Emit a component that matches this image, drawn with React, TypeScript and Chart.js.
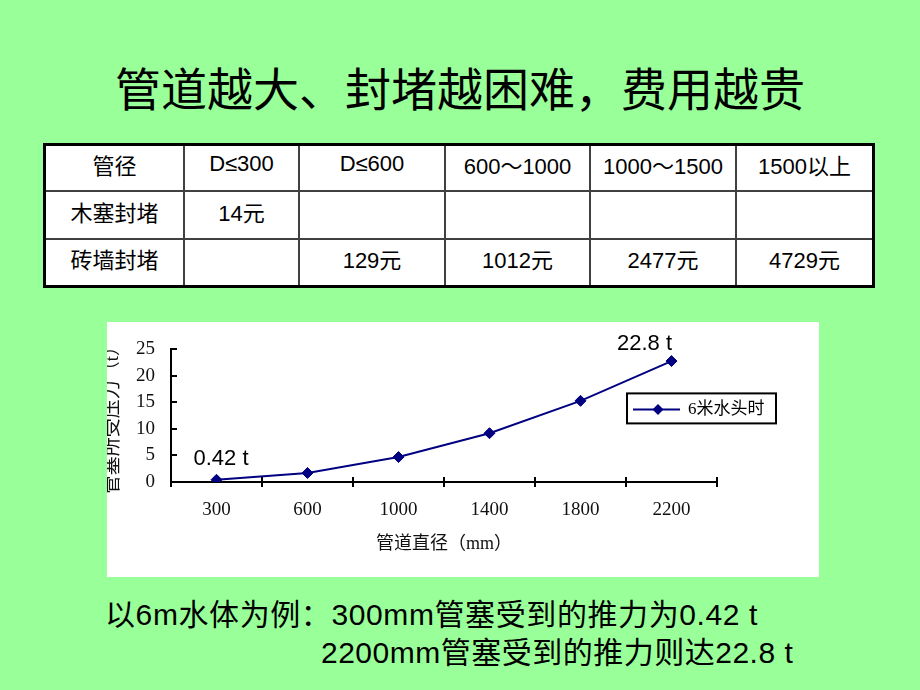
import React, { useEffect, useRef } from "react";
import { Chart, registerables } from "chart.js";

Chart.register(...registerables);

// ---------- data ----------
const slideTitle = "管道越大、封堵越困难，费用越贵";
const tableHeader = ["管径", "D≤300", "D≤600", "600～1000", "1000～1500", "1500以上"];
const woodRow = ["木塞封堵", "14元", "", "", "", ""];
const brickRow = ["砖墙封堵", "", "129元", "1012元", "2477元", "4729元"];

const diameters = ["300", "600", "1000", "1400", "1800", "2200"];
const thrust = [0.42, 1.7, 4.7, 9.2, 15.3, 22.8];
const pointNotes = ["0.42 t", "", "", "", "", "22.8 t"];
const seriesName = "6米水头时";
const xTitle = "管道直径（mm）";
const yTitle = "管塞所受压力（t）";
const yMin = 0;
const yMax = 25;
const yStep = 5;

const noteLine1 = "以6m水体为例：300mm管塞受到的推力为0.42 t";
const noteLine2 = "2200mm管塞受到的推力则达22.8 t";

// ---------- styles ----------
const NAVY = "#000080";
const GREEN = "#99FF99";
const SERIF = '"Liberation Serif", "Noto Sans CJK SC", serif';
const SANS = '"Liberation Sans", "Noto Sans CJK SC", sans-serif';
const CJK = '"Noto Sans CJK SC", sans-serif';

const colWidths = [137, 113, 144, 143, 144, 135];
const rowHeights = [44, 46, 45];

// label offsets relative to their points (px)
const noteOffsets: Record<number, [number, number]> = { 0: [4.5, -15], 5: [-27, -11] };

const axisTicksPlugin = {
  id: "axisTicks",
  afterDraw(chart: any) {
    const { ctx, chartArea, scales } = chart;
    const xs = scales.x;
    const ys = scales.y;
    ctx.save();
    ctx.strokeStyle = "#000";
    ctx.lineWidth = 2;
    ctx.beginPath();
    ys.ticks.forEach((t: any) => {
      const py = Math.round(ys.getPixelForValue(t.value));
      ctx.moveTo(chartArea.left, py);
      ctx.lineTo(chartArea.left + 6, py);
    });
    for (let i = 0; i <= xs.ticks.length; i++) {
      const px = Math.round(xs.getPixelForValue(i - 0.5));
      ctx.moveTo(px, chartArea.bottom - 5);
      ctx.lineTo(px, chartArea.bottom + 5);
    }
    ctx.stroke();
    ctx.restore();
  },
};

const notesPlugin = {
  id: "pointNotes",
  afterDatasetsDraw(chart: any) {
    const meta = chart.getDatasetMeta(0);
    const ctx = chart.ctx;
    ctx.save();
    ctx.font = '22px "Liberation Sans", sans-serif';
    ctx.fillStyle = "#000";
    ctx.textAlign = "center";
    ctx.textBaseline = "alphabetic";
    pointNotes.forEach((t, i) => {
      if (!t) return;
      const p = meta.data[i];
      const off = noteOffsets[i] || [0, -12];
      ctx.fillText(t, p.x + off[0], p.y + off[1]);
    });
    ctx.restore();
  },
};

const boxedLegendPlugin = {
  id: "boxedLegend",
  afterDraw(chart: any) {
    const { ctx, chartArea } = chart;
    const ds = chart.data.datasets[0];
    const w = 149;
    const h = 30;
    const x = chartArea.right - 90;
    const y = chartArea.top + 44;
    ctx.save();
    ctx.fillStyle = "#fff";
    ctx.fillRect(x, y, w, h);
    ctx.lineWidth = 2;
    ctx.strokeStyle = "#000";
    ctx.strokeRect(x, y, w, h);
    const my = y + 16;
    ctx.strokeStyle = ds.borderColor;
    ctx.lineWidth = ds.borderWidth;
    ctx.beginPath();
    ctx.moveTo(x + 6, my);
    ctx.lineTo(x + 53, my);
    ctx.stroke();
    const cx = x + 31;
    const r = ds.pointRadius;
    ctx.fillStyle = ds.pointBackgroundColor;
    ctx.beginPath();
    ctx.moveTo(cx - r, my);
    ctx.lineTo(cx, my - r);
    ctx.lineTo(cx + r, my);
    ctx.lineTo(cx, my + r);
    ctx.closePath();
    ctx.fill();
    ctx.fillStyle = "#000";
    ctx.font = "17px " + SERIF;
    ctx.textAlign = "left";
    ctx.textBaseline = "middle";
    ctx.fillText(ds.label, x + 61, my);
    ctx.restore();
  },
};

function ForceChart() {
  const canvasRef = useRef<HTMLCanvasElement>(null);
  useEffect(() => {
    const chart = new Chart(canvasRef.current as HTMLCanvasElement, {
      type: "line",
      data: {
        labels: diameters,
        datasets: [
          {
            label: seriesName,
            data: thrust,
            borderColor: NAVY,
            backgroundColor: NAVY,
            borderWidth: 2,
            pointStyle: "rectRot",
            pointRadius: 5.5,
            pointBorderWidth: 1,
            pointBackgroundColor: NAVY,
            pointBorderColor: NAVY,
            tension: 0,
            fill: false,
          } as any,
        ],
      },
      options: {
        responsive: false,
        maintainAspectRatio: false,
        animation: false,
        layout: { padding: { top: 27, right: 102, left: 0, bottom: 0 } },
        plugins: {
          legend: { display: false },
          tooltip: { enabled: false },
          title: { display: false },
        },
        scales: {
          x: {
            type: "category",
            offset: true,
            grid: { display: true, drawOnChartArea: false, drawTicks: false, offset: true },
            border: { display: true, color: "#000", width: 2 },
            ticks: {
              color: "#111",
              font: { family: SERIF, size: 19 },
              padding: 17,
              maxRotation: 0,
              autoSkip: false,
            },
            title: {
              display: true,
              text: xTitle,
              color: "#111",
              font: { family: SERIF, size: 18 },
              padding: { top: 0, bottom: 22 },
            },
            afterFit: (s: any) => {
              s.height = 95;
            },
          },
          y: {
            min: yMin,
            max: yMax,
            grid: { display: true, drawOnChartArea: false, drawTicks: false },
            border: { display: true, color: "#000", width: 2 },
            ticks: {
              stepSize: yStep,
              color: "#111",
              font: { family: SERIF, size: 19 },
              padding: 16,
            },
            title: {
              display: true,
              text: yTitle,
              color: "#111",
              font: { family: SERIF, size: 19 },
              padding: { top: -5, bottom: 0 },
            },
            afterFit: (s: any) => {
              s.width = 64;
            },
          },
        },
      } as any,
      plugins: [axisTicksPlugin, notesPlugin, boxedLegendPlugin],
    });
    return () => chart.destroy();
  }, []);
  return (
    <canvas
      ref={canvasRef}
      width={712}
      height={255}
      style={{ position: "absolute", left: 107, top: 322, background: "#fff", display: "block" }}
    />
  );
}

function PriceTable() {
  const rows = [tableHeader, woodRow, brickRow];
  return (
    <div
      style={{
        position: "absolute",
        left: 43,
        top: 143,
        display: "grid",
        gridTemplateColumns: colWidths.map((w) => w + "px").join(" "),
        gridTemplateRows: rowHeights.map((h) => h + "px").join(" "),
        gap: 2,
        background: "#404040",
        border: "3px solid #000",
        fontFamily: SANS,
        fontSize: 22,
        color: "#000",
      }}
    >
      {rows.map((row, ri) =>
        row.map((cell, ci) => (
          <div
            key={ri + "-" + ci}
            style={{
              background: "#fff",
              display: "flex",
              alignItems: "center",
              justifyContent: "center",
              paddingBottom: 9,
              boxSizing: "border-box",
              whiteSpace: "nowrap",
            }}
          >
            {cell}
          </div>
        ))
      )}
    </div>
  );
}

export default function App() {
  return (
    <div
      style={{
        position: "absolute",
        left: 0,
        top: 0,
        width: 920,
        height: 690,
        background: GREEN,
        overflow: "hidden",
        color: "#000",
      }}
    >
      <div
        style={{
          position: "absolute",
          left: 0,
          top: 63,
          width: 920,
          textAlign: "center",
          fontFamily: CJK,
          fontSize: 46,
          lineHeight: "46px",
          whiteSpace: "nowrap",
        }}
      >
        {slideTitle}
      </div>
      <PriceTable />
      <ForceChart />
      <div
        style={{
          position: "absolute",
          left: 105,
          top: 596,
          fontFamily: SANS,
          fontSize: 30,
          lineHeight: "38px",
          letterSpacing: "0.6px",
          whiteSpace: "nowrap",
        }}
      >
        {noteLine1}
      </div>
      <div
        style={{
          position: "absolute",
          left: 321,
          top: 634,
          fontFamily: SANS,
          fontSize: 30,
          lineHeight: "38px",
          letterSpacing: "0.5px",
          whiteSpace: "nowrap",
        }}
      >
        {noteLine2}
      </div>
    </div>
  );
}
